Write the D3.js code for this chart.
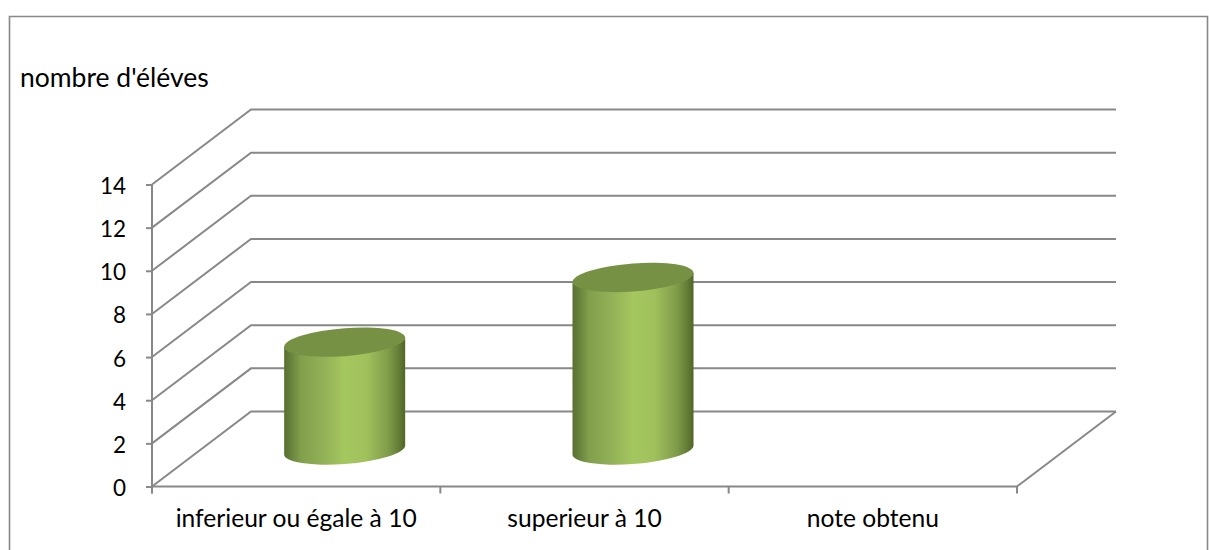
<!DOCTYPE html>
<html lang="fr">
<head>
<meta charset="utf-8">
<title>nombre d'éléves</title>
<script src="https://cdn.jsdelivr.net/npm/d3@7"></script>
<style>
  html, body { margin: 0; padding: 0; background: #fff; }
  svg { display: block; }
  text { font-family: Lato, "Open Sans", sans-serif; fill: #000; }
</style>
</head>
<body>
<svg id="chart" width="1209" height="550"></svg>
<script>
// Chart data
const categories = ["inferieur ou égale à 10", "superieur à 10", "note obtenu"];
const values = [5, 8, null];
const yTicks = [0, 2, 4, 6, 8, 10, 12, 14];
const yTitle = "nombre d'éléves";

// Layout
const width = 1209, height = 550;
const front = { left: 152, right: 1017, bottom: 486.5, top: 184.5 };
const depth = { x: 99, y: -75 };      // offset from the front plane to the back wall
const axisColor = "#888888";
const barWidth = 121;
const barDepth = { x: 48.5, y: -36.5 };  // cylinders stand halfway into the floor
const tiltRise = 4.5;                 // vertical drop of the ellipse across its half width
const capHalfHeight = 14;

const svg = d3.select("#chart");
const x = d3.scaleBand().domain(categories).range([front.left, front.right]);
const y = d3.scaleLinear().domain([0, 14]).range([front.bottom, front.top]);

// Side shading of the cylinders
const grad = svg.append("defs").append("linearGradient")
  .attr("id", "cylinderSide").attr("x1", 0).attr("x2", 1).attr("y1", 0).attr("y2", 0);
[[0, "#587030"], [0.05, "#65803a"], [0.14, "#82a04c"], [0.32, "#92b057"], [0.5, "#a5c75f"],
 [0.68, "#a0c05c"], [0.86, "#809c4a"], [0.95, "#637c35"], [1, "#4f6527"]].forEach(([o, c]) =>
  grad.append("stop").attr("offset", o).attr("stop-color", c));

// Outer frame, open at the bottom edge
svg.append("path")
  .attr("d", d3.line()([[9.5, height], [9.5, 16.5], [1207.5, 16.5], [1207.5, height]]))
  .attr("fill", "none").attr("stroke", axisColor).attr("stroke-width", 1.6);

// Gridlines: up the side wall, then along the back wall
const grid = svg.append("g").attr("fill", "none").attr("stroke", axisColor).attr("stroke-width", 2);
grid.selectAll("path").data(yTicks).join("path")
  .attr("d", t => d3.line()([
    [front.left, y(t)],
    [front.left + depth.x, y(t) + depth.y],
    [front.right + depth.x, y(t) + depth.y]
  ]));

// Right edge of the floor
grid.append("path").attr("d", d3.line()([
  [front.right, front.bottom],
  [front.right + depth.x, front.bottom + depth.y]
]));

// Axes
const yAxis = svg.append("g").attr("transform", `translate(${front.left},0)`)
  .call(d3.axisLeft(y).tickValues(yTicks).tickSize(6).tickPadding(20));
const xAxis = svg.append("g").attr("transform", `translate(0,${front.bottom})`)
  .call(d3.axisBottom(x).tickSize(0).tickPadding(23.5));
// Ticks sit on the category boundaries
xAxis.selectAll("line.boundary")
  .data(d3.range(categories.length + 1)).join("line")
  .attr("class", "boundary")
  .attr("x1", i => front.left + i * x.bandwidth())
  .attr("x2", i => front.left + i * x.bandwidth())
  .attr("y1", 0).attr("y2", 7);
[yAxis, xAxis].forEach(a => {
  a.attr("font-family", null).attr("font-size", null);
  a.selectAll(".domain, line").attr("stroke", axisColor).attr("stroke-width", 2);
  a.selectAll("text").attr("fill", "#000");
});
yAxis.selectAll("text").style("font-size", "22.5px").attr("dy", "0.4em");
xAxis.selectAll("text").style("font-size", "24.6px");
xAxis.select(".domain").attr("d", `M${front.left},0H${front.right}`);
yAxis.select(".domain").attr("d", `M0,${front.top}V${front.bottom + 7}`);

// Axis title
svg.append("text").attr("x", 20).attr("y", 87).style("font-size", "26.5px").text(yTitle);

// Cylinders, sheared so the ellipses lean upward to the right
const shear = -tiltRise / (barWidth / 2);
const rx = barWidth / 2;
const bars = svg.append("g").selectAll("g")
  .data(categories.map((c, i) => ({ c, v: values[i] })).filter(d => d.v != null))
  .join("g")
  .attr("transform", d => {
    const cx = x(d.c) + x.bandwidth() / 2 + barDepth.x;
    const cy = y(0) + barDepth.y;
    return `matrix(1,${shear},0,1,${cx},${cy})`;
  });

bars.append("path")
  .attr("fill", "url(#cylinderSide)")
  .attr("d", d => {
    const h = y(0) - y(d.v);
    return `M${-rx},${-h}V0A${rx},${capHalfHeight} 0 0 0 ${rx},0V${-h}Z`;
  });

bars.append("ellipse")
  .attr("cx", 0)
  .attr("cy", d => y(d.v) - y(0))
  .attr("rx", rx)
  .attr("ry", capHalfHeight)
  .attr("fill", "#779144");
</script>
</body>
</html>
